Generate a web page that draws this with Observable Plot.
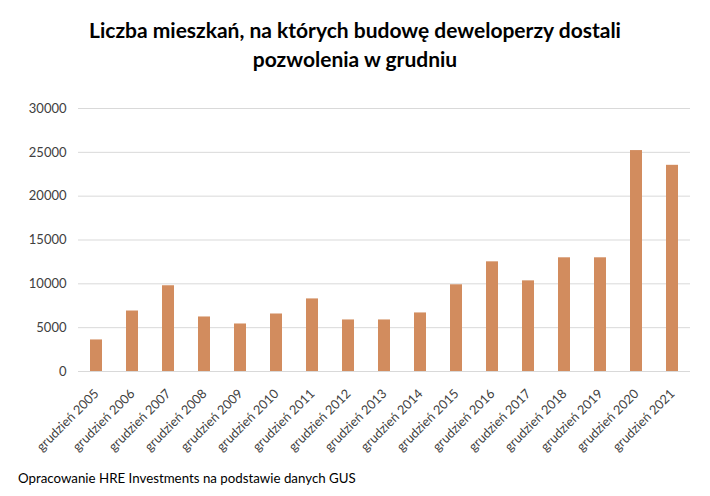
<!DOCTYPE html>
<html>
<head>
<meta charset="utf-8">
<script src="https://cdn.jsdelivr.net/npm/d3@7"></script>
<script src="https://cdn.jsdelivr.net/npm/@observablehq/plot@0.6"></script>
<style>
  body { margin: 0; background: #fff; font-family: Lato, "Open Sans", sans-serif; }
  #wrap { width: 710px; height: 496px; position: relative; overflow: hidden; }
  #title { position: absolute; top: 15px; left: 0; width: 710px; text-align: center; font-weight: bold; font-size: 21px; line-height: 29px; color: #000; }
  #chart { position: absolute; top: 88px; left: 0; }
  #caption { position: absolute; top: 470px; left: 18px; font-size: 13.3px; color: #000; }
</style>
</head>
<body>
<div id="wrap">
  <div id="title">Liczba mieszkań, na których budowę deweloperzy dostali<br>pozwolenia w grudniu</div>
  <div id="chart"></div>
  <div id="caption">Opracowanie HRE Investments na podstawie danych GUS</div>
</div>
<script>
const categories = ["grudzień 2005","grudzień 2006","grudzień 2007","grudzień 2008","grudzień 2009","grudzień 2010","grudzień 2011","grudzień 2012","grudzień 2013","grudzień 2014","grudzień 2015","grudzień 2016","grudzień 2017","grudzień 2018","grudzień 2019","grudzień 2020","grudzień 2021"];
const values = [3600, 6900, 9780, 6220, 5420, 6560, 8280, 5880, 5880, 6680, 9890, 12510, 10340, 12970, 12970, 25200, 23520];
const yTicks = [0, 5000, 10000, 15000, 20000, 25000, 30000];

const data = categories.map((c, i) => ({category: c, value: values[i]}));

const chart = Plot.plot({
  width: 710,
  height: 375,
  marginTop: 20,
  marginBottom: 92,
  marginLeft: 78,
  marginRight: 20,
  style: {fontFamily: "Lato, 'Open Sans', sans-serif", fontSize: "13px", color: "#404040", background: "#fff"},
  x: {domain: categories, paddingInner: 0.667, paddingOuter: 0.333, label: null},
  y: {domain: [0, 30000], ticks: yTicks, label: null},
  marks: [
    Plot.gridY(yTicks, {stroke: "#d9d9d9", strokeOpacity: 1, strokeWidth: 1}),
    Plot.barY(data, {x: "category", y: "value", fill: "#D28C5E"}),
    Plot.axisY(yTicks, {tickSize: 0, tickPadding: 12, tickFormat: d => String(d), fontSize: 13}),
    Plot.axisX({tickSize: 0, tickRotate: -45, tickPadding: 20, fontSize: 12.8})
  ]
});
document.getElementById("chart").appendChild(chart);
</script>
</body>
</html>
